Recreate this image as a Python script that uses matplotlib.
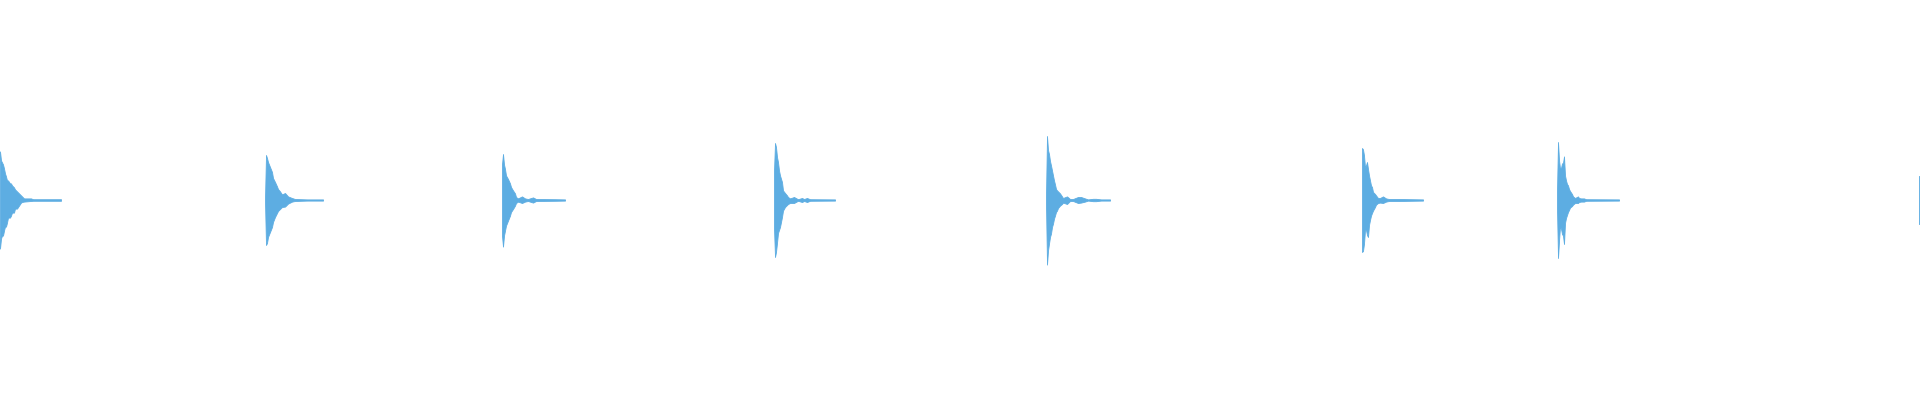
import numpy as np
import matplotlib
matplotlib.use("Agg")
import matplotlib.pyplot as plt

# waveform overview: peak envelope of each hit, amplitude normalised to full scale
duration = 19.2  # seconds shown across the strip
onsets = [0.00, 2.66, 5.02, 7.74, 10.46, 13.62, 15.57, 19.19]

# per-hit envelope: offsets in ms after onset, positive peak, negative peak
ev1_t = [0, 10, 20, 30, 40, 50, 60, 70, 80, 100, 110, 120, 140, 150, 170, 190, 210, 220, 240, 310, 330, 610]
ev1_top = [0.243, 0.198, 0.188, 0.178, 0.158, 0.133, 0.118, 0.098, 0.098, 0.083, 0.083, 0.073, 0.063, 0.053,
           0.043, 0.033, 0.023, 0.018, 0.008, 0.008, 0.004, 0.004]
ev1_bot = [0.243, 0.193, 0.178, 0.178, 0.153, 0.133, 0.133, 0.113, 0.088, 0.088, 0.078, 0.063, 0.063, 0.043,
           0.043, 0.028, 0.013, 0.010, 0.008, 0.005, 0.004, 0.004]

ev2_t = [-10, 0, 10, 20, 40, 60, 70, 90, 110, 120, 140, 160, 190, 220, 260, 290, 410, 570]
ev2_top = [0.003, 0.225, 0.21, 0.19, 0.165, 0.14, 0.11, 0.09, 0.068, 0.055, 0.043, 0.028, 0.035, 0.018,
           0.01, 0.005, 0.003, 0.003]
ev2_bot = [0.003, 0.225, 0.215, 0.185, 0.16, 0.135, 0.11, 0.085, 0.065, 0.055, 0.045, 0.035, 0.033, 0.018,
           0.008, 0.005, 0.003, 0.003]

ev3_t = [0, 10, 20, 30, 40, 60, 80, 90, 110, 130, 140, 160, 200, 230, 260, 310, 340, 530, 630]
ev3_top = [0.178, 0.23, 0.178, 0.155, 0.123, 0.105, 0.083, 0.065, 0.048, 0.033, 0.015, 0.008, 0.018, 0.008,
           0.005, 0.013, 0.005, 0.004, 0.003]
ev3_bot = [0.178, 0.233, 0.178, 0.153, 0.128, 0.103, 0.078, 0.06, 0.045, 0.028, 0.015, 0.008, 0.015, 0.008,
           0.005, 0.013, 0.005, 0.004, 0.003]

ev4_t = [0, 10, 20, 30, 40, 50, 60, 80, 90, 110, 130, 140, 160, 200, 240, 280, 300, 330, 360, 610]
ev4_top = [0.143, 0.285, 0.265, 0.215, 0.19, 0.148, 0.123, 0.09, 0.048, 0.035, 0.023, 0.015, 0.008, 0.015,
           0.004, 0.01, 0.005, 0.01, 0.004, 0.003]
ev4_bot = [0.138, 0.285, 0.26, 0.215, 0.165, 0.15, 0.135, 0.085, 0.053, 0.035, 0.025, 0.02, 0.015, 0.015,
           0.004, 0.01, 0.005, 0.01, 0.004, 0.003]

ev5_t = [0, 10, 20, 30, 40, 50, 60, 70, 80, 90, 100, 110, 120, 140, 160, 170, 210, 240, 270, 320, 350, 390,
         420, 470, 500, 550, 640]
ev5_top = [0.015, 0.32, 0.25, 0.23, 0.195, 0.173, 0.148, 0.123, 0.098, 0.078, 0.055, 0.048, 0.043, 0.033,
           0.018, 0.01, 0.018, 0.005, 0.005, 0.015, 0.015, 0.008, 0.003, 0.006, 0.006, 0.003, 0.003]
ev5_bot = [0.015, 0.323, 0.253, 0.218, 0.185, 0.168, 0.135, 0.118, 0.093, 0.078, 0.06, 0.053, 0.04, 0.028,
           0.02, 0.013, 0.02, 0.005, 0.005, 0.015, 0.013, 0.008, 0.003, 0.006, 0.006, 0.003, 0.003]

ev6_t = [0, 10, 20, 30, 40, 50, 60, 70, 80, 90, 100, 110, 130, 140, 160, 180, 210, 240, 270, 370, 610]
ev6_top = [0.26, 0.253, 0.223, 0.165, 0.173, 0.19, 0.155, 0.123, 0.098, 0.073, 0.065, 0.04, 0.03, 0.023,
           0.01, 0.01, 0.018, 0.008, 0.005, 0.005, 0.003]
ev6_bot = [0.26, 0.255, 0.218, 0.15, 0.15, 0.175, 0.185, 0.125, 0.1, 0.078, 0.065, 0.053, 0.035, 0.023,
           0.015, 0.013, 0.015, 0.008, 0.005, 0.005, 0.003]

ev7_t = [0, 10, 20, 30, 40, 50, 60, 70, 80, 90, 100, 110, 120, 130, 150, 160, 180, 210, 220, 240, 270, 290, 620]
ev7_top = [0.04, 0.29, 0.2, 0.158, 0.16, 0.183, 0.185, 0.218, 0.123, 0.098, 0.08, 0.073, 0.055, 0.045,
           0.03, 0.018, 0.01, 0.018, 0.01, 0.008, 0.008, 0.004, 0.003]
ev7_bot = [0.038, 0.29, 0.205, 0.133, 0.143, 0.17, 0.178, 0.22, 0.115, 0.09, 0.075, 0.06, 0.05, 0.038,
           0.03, 0.023, 0.015, 0.015, 0.01, 0.008, 0.008, 0.004, 0.003]

ev8_t = [0, 10]
ev8_top = [0.12, 0.12]
ev8_bot = [0.12, 0.12]

wave_color = "#5dade2"

events = [
    (ev1_t, ev1_top, ev1_bot), (ev2_t, ev2_top, ev2_bot), (ev3_t, ev3_top, ev3_bot),
    (ev4_t, ev4_top, ev4_bot), (ev5_t, ev5_top, ev5_bot), (ev6_t, ev6_top, ev6_bot),
    (ev7_t, ev7_top, ev7_bot), (ev8_t, ev8_top, ev8_bot),
]

fig = plt.figure(figsize=(19.2, 4), dpi=100)
ax = fig.add_axes([0, 0, 1, 1])

for onset, (t, top, bot) in zip(onsets, events):
    x = onset + np.array(t) / 1000.0
    ax.fill_between(x, -np.array(bot), np.array(top), color=wave_color,
                    edgecolor=wave_color, linewidth=0.6)

ax.set_xlim(0, duration)
ax.set_ylim(-1, 1)
ax.axis("off")

fig.savefig("out.png", dpi=100, facecolor="white")
